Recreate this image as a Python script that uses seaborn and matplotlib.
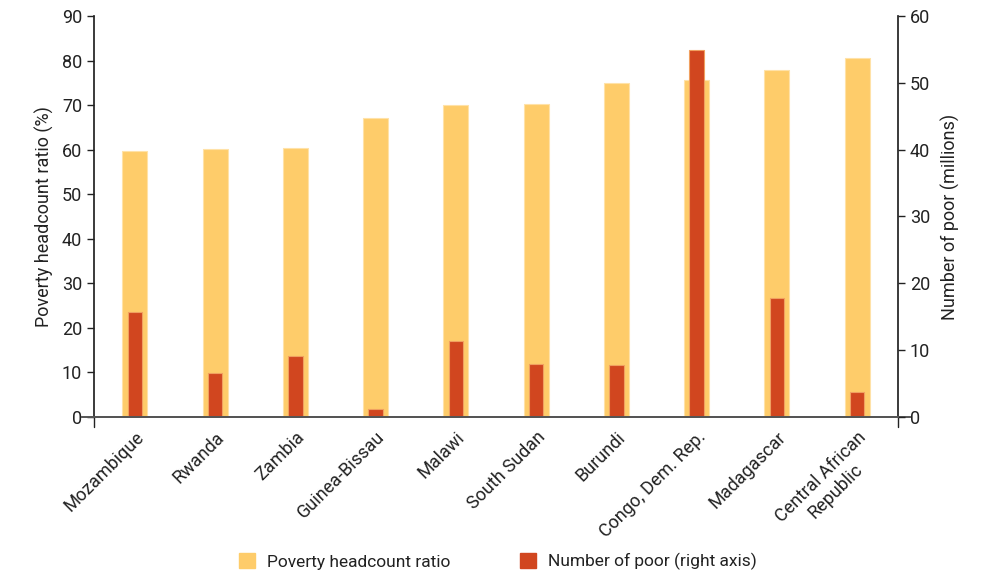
import matplotlib
matplotlib.use("Agg")
import matplotlib.pyplot as plt
import matplotlib.patches as mpatches
import seaborn as sns
import pandas as pd

sns.set_theme(style='white')
plt.rcParams['font.family'] = ['Roboto', 'DejaVu Sans']

countries = ['Mozambique', 'Rwanda', 'Zambia', 'Guinea-Bissau', 'Malawi', 'South Sudan',
             'Burundi', 'Congo, Dem. Rep.', 'Madagascar', 'Central African\nRepublic']
headcount_ratio = [59.8, 60.2, 60.4, 67.2, 70.1, 70.2, 75.0, 75.6, 77.8, 80.6]
num_poor = [15.7, 6.6, 9.1, 1.2, 11.3, 8.0, 7.8, 54.9, 17.8, 3.7]

yellow = '#FECC6A'
red = '#D1461F'

df = pd.DataFrame({'country': countries, 'ratio': headcount_ratio, 'poor': num_poor})

fig = plt.figure(figsize=(9.84, 5.81), dpi=100)
ax = fig.add_axes([0.0955, 0.2823, 0.8171, 0.6902])
sns.barplot(data=df, x='country', y='ratio', color=yellow, saturation=1, width=0.31,
            edgecolor='#FFE2A8', linewidth=0.8, ax=ax)
ax2 = ax.twinx()
sns.barplot(data=df, x='country', y='poor', color=red, saturation=1, width=0.18,
            edgecolor='#F0A060', linewidth=0.8, ax=ax2)

ax.set_xlim(-0.51, 9.51)
ax.set_ylim(0, 90)
ax2.set_ylim(0, 60)
ax.set_yticks(range(0, 91, 10))
ax2.set_yticks(range(0, 61, 10))

for a in (ax, ax2):
    a.spines['top'].set_visible(False)
    a.spines['left'].set_color('#222222')
    a.spines['right'].set_color('#222222')
    a.spines['bottom'].set_color('#555555')
    a.spines['bottom'].set_linewidth(1.4)
    a.set_xlabel('')
ax2.spines['left'].set_visible(False)
ax.spines['right'].set_visible(False)
ax.spines['bottom'].set_bounds(-0.66, 9.66)

ax.tick_params(axis='y', direction='out', length=5, width=1, color='#222222',
               labelsize=13, labelcolor='#222222', left=True)
ax2.tick_params(axis='y', direction='out', length=5, width=1, color='#222222',
                labelsize=13, labelcolor='#222222', right=True)
ax.tick_params(axis='x', length=0, labelsize=13, labelcolor='#222222', pad=8)
ax2.tick_params(axis='x', length=0, labelbottom=False)
plt.setp(ax.get_xticklabels(), rotation=45, ha='right', rotation_mode='anchor',
         multialignment='center')

# short ticks dropping below the axis at both ends
for xe in (-0.51, 9.51):
    ax.plot([xe, xe], [0, -2.2], color='#222222', lw=1, clip_on=False)

ax.set_ylabel('Poverty headcount ratio (%)', fontsize=13, color='#222222', labelpad=6)
ax2.set_ylabel('Number of poor (millions)', fontsize=13, color='#222222', labelpad=8)

handles = [mpatches.Patch(color=yellow, label='Poverty headcount ratio'),
           mpatches.Patch(color=red, label='Number of poor (right axis)')]
fig.legend(handles=handles, loc='center', bbox_to_anchor=(0.506, 0.033), ncol=2,
           frameon=False, fontsize=12.5, handlelength=0.9, handleheight=0.9,
           columnspacing=4.0, handletextpad=0.7, labelcolor='#222222')

fig.savefig('out.png', dpi=100)
